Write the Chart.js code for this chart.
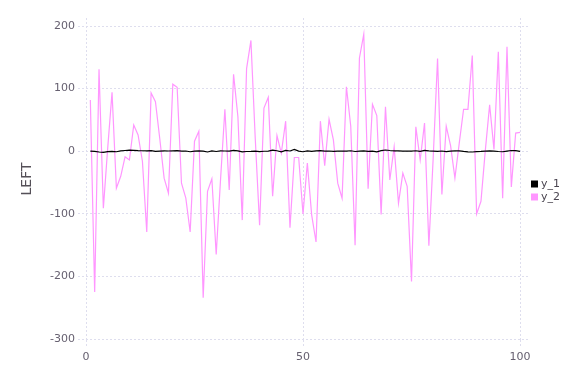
<!DOCTYPE html>
<html>
<head>
<meta charset="utf-8">
<script src="https://cdn.jsdelivr.net/npm/chart.js@4/dist/chart.umd.min.js"></script>
<style>
  html, body { margin: 0; padding: 0; background: #ffffff; }
  #c { display: block; }
</style>
</head>
<body>
<canvas id="c" width="576" height="384"></canvas>
<script>
const xValues = [1,2,3,4,5,6,7,8,9,10,11,12,13,14,15,16,17,18,19,20,
  21,22,23,24,25,26,27,28,29,30,31,32,33,34,35,36,37,38,39,40,
  41,42,43,44,45,46,47,48,49,50,51,52,53,54,55,56,57,58,59,60,
  61,62,63,64,65,66,67,68,69,70,71,72,73,74,75,76,77,78,79,80,
  81,82,83,84,85,86,87,88,89,90,91,92,93,94,95,96,97,98,99,100];

const y1Values = [0.2,-0.3,-1.2,-1.8,-0.6,-0.2,-0.8,0.6,1.2,1.8,
  1.5,1.0,0.8,0.5,0.9,-0.2,0.3,0.6,0.4,0.7,
  0.9,0.3,0.4,-0.8,0.3,0.7,0.2,-1.2,0.4,-0.4,
  0.6,0.4,0.2,1.5,0.6,-1.0,-0.4,-0.2,0.3,-0.5,
  0.0,0.2,1.6,0.8,-0.9,1.2,0.4,2.8,0.2,-0.8,
  0.5,-0.2,0.6,0.9,0.1,0.4,-0.2,0.2,0.3,0.1,
  0.8,-0.4,0.2,0.5,-0.1,0.2,-1.0,0.9,2.0,1.2,
  0.6,0.5,0.1,0.4,0.2,0.8,-0.2,1.3,0.5,0.1,
  -0.3,0.4,-0.5,0.1,0.6,0.7,-0.3,-0.9,-1.2,-0.6,
  -0.3,0.2,0.5,0.2,-0.4,-0.8,0.3,1.2,1.0,-0.2];

const y2Values = [82,-225,131,-91,5,94,-59,-40,-9,-14,
  42,26,-16,-129,93,79,20,-43,-67,107,
  102,-51,-75,-129,16,32,-234,-64,-44,-165,
  -45,67,-62,123,55,-110,132,177,20,-118,
  69,86,-72,25,-3,48,-122,-10,-10,-100,
  -19,-102,-145,48,-23,51,18,-51,-75,103,
  40,-150,149,187,-60,75,57,-101,71,-46,
  7,-83,-35,-56,-208,39,-14,45,-151,-10,
  148,-69,40,9,-43,13,67,67,153,-100,
  -80,1,74,3,159,-75,167,-57,29,30];

const seriesNames = ['y_1', 'y_2'];
const seriesColors = ['#000000', '#ff96ff'];
const xTicks = [0, 50, 100];
const yTicks = [-300, -200, -100, 0, 100, 200];
const yTitle = 'LEFT';

const FONT = '"DejaVu Sans", sans-serif';
const gridColor = '#dedeee';
const labelColor = '#666070';

function pts(ys) { return xValues.map((x, i) => ({ x: x, y: ys[i] })); }

const legendPlugin = {
  id: 'sideLegend',
  afterDraw(chart) {
    const ctx = chart.ctx;
    ctx.save();
    ctx.font = '11px ' + FONT;
    ctx.textBaseline = 'middle';
    ctx.textAlign = 'left';
    chart.data.datasets.forEach((ds, i) => {
      const cy = 184 + i * 13;
      ctx.fillStyle = ds.borderColor;
      ctx.fillRect(531, cy - 3.5, 7, 7);
      ctx.fillStyle = '#4a4550';
      ctx.fillText(ds.label, 541, cy);
    });
    ctx.restore();
  }
};

new Chart(document.getElementById('c'), {
  type: 'line',
  data: {
    datasets: [
      { label: seriesNames[0], data: pts(y1Values), borderColor: seriesColors[0], backgroundColor: seriesColors[0], borderWidth: 1.2, pointRadius: 0, tension: 0 },
      { label: seriesNames[1], data: pts(y2Values), borderColor: seriesColors[1], backgroundColor: seriesColors[1], borderWidth: 1.2, pointRadius: 0, tension: 0 }
    ]
  },
  options: {
    responsive: false,
    animation: false,
    devicePixelRatio: 1,
    layout: { padding: { left: 0, top: 18, right: 46, bottom: 0 } },
    plugins: { legend: { display: false }, tooltip: { enabled: false } },
    scales: {
      x: {
        type: 'linear',
        min: 0,
        max: 102.3,
        afterBuildTicks(scale) { scale.ticks = xTicks.map(v => ({ value: v })); },
        afterFit(scale) { scale.height = 44; },
        grid: { color: gridColor, lineWidth: 1, tickLength: 8, tickColor: gridColor, tickBorderDash: [2, 2] },
        border: { display: false, dash: [2, 2] },
        ticks: { color: labelColor, font: { family: FONT, size: 11 }, padding: 3, maxRotation: 0 }
      },
      y: {
        type: 'linear',
        min: -301.5,
        max: 212.8,
        afterBuildTicks(scale) { scale.ticks = yTicks.map(v => ({ value: v })); },
        afterFit(scale) { scale.width = 86; },
        grid: { color: gridColor, lineWidth: 1, tickLength: 8, tickColor: gridColor, tickBorderDash: [2, 2] },
        border: { display: false, dash: [2, 2] },
        ticks: { color: labelColor, font: { family: FONT, size: 11 }, padding: 3 },
        title: { display: true, text: yTitle, color: '#555058', font: { family: FONT, size: 14 }, padding: { top: 19, bottom: 0 } }
      }
    }
  },
  plugins: [legendPlugin]
});
</script>
</body>
</html>
